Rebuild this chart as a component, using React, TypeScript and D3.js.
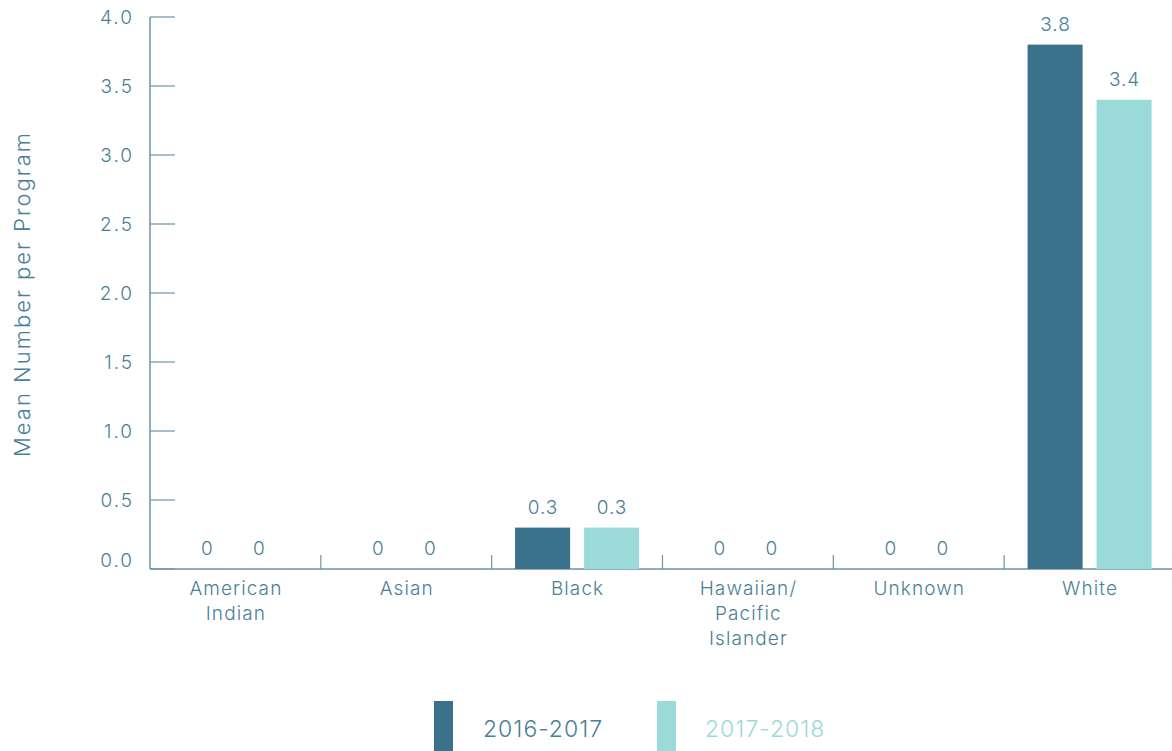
import React from "react";
import * as d3 from "d3";

const categories = ["American Indian", "Asian", "Black", "Hawaiian/ Pacific Islander", "Unknown", "White"];
const categoryLines = [["American", "Indian"], ["Asian"], ["Black"], ["Hawaiian/", "Pacific", "Islander"], ["Unknown"], ["White"]];
const seriesNames = ["2016-2017", "2017-2018"];
const values2016 = [0, 0, 0.3, 0, 0, 3.8];
const values2017 = [0, 0, 0.3, 0, 0, 3.4];
const yTicks = [0, 0.5, 1, 1.5, 2, 2.5, 3, 3.5, 4];

const W = 1172, H = 751;
const left = 150, right = 1175, top = 17, bottom = 569;
const colors = ["#3a718b", "#9adad8"];
const textColor = "#4a7f98";
const axisColor = "#6b95a8";
const font = "Inter, 'Open Sans', sans-serif";

export default function App() {
  const x = d3.scaleBand<string>().domain(categories).range([left, right]);
  const y = d3.scaleLinear().domain([0, 4]).range([bottom, top]);
  const barW = 55, gap = 14;
  const series = [values2016, values2017];
  return (
    <svg width={W} height={H} style={{ position: "absolute", left: 0, top: 0 }} fontFamily={font}>
      {/* y axis */}
      <line x1={left} x2={left} y1={top} y2={bottom} stroke={axisColor} strokeWidth={1.5} />
      {yTicks.map((t) => (
        <g key={t}>
          <line x1={left} x2={left + 25} y1={y(t)} y2={y(t)} stroke={axisColor} strokeWidth={1.2} />
          <text x={134} y={y(t) - (t === 0 ? 9 : 0)} dy="0.35em" textAnchor="end" fontSize={19} letterSpacing={2} fill={textColor} fontWeight={300}>
            {d3.format(".1f")(t)}
          </text>
        </g>
      ))}
      <text transform={`translate(30,${(top + bottom) / 2 + 1}) rotate(-90)`} textAnchor="middle" fontSize={22} letterSpacing={2} fill={textColor} fontWeight={300}>
        Mean Number per Program
      </text>
      {/* x axis */}
      <line x1={left} x2={W} y1={bottom} y2={bottom} stroke={axisColor} strokeWidth={1.5} />
      {categories.slice(1).map((c) => (
        <line key={c} x1={x(c)!} x2={x(c)!} y1={bottom} y2={bottom - 14} stroke={axisColor} strokeWidth={1.2} />
      ))}
      {categories.map((c, i) => {
        const cx = x(c)! + x.bandwidth() / 2;
        return (
          <g key={c}>
            {series.map((vals, s) => {
              const bx = s === 0 ? cx - gap / 2 - barW : cx + gap / 2;
              const v = vals[i];
              const lx = v === 0 ? cx - 2 + (s === 0 ? -26 : 26) : bx + barW / 2 + 0.5;
              return (
                <g key={s}>
                  {v > 0 && <rect x={bx} y={y(v)} width={barW} height={bottom - y(v)} fill={colors[s]} />}
                  <text x={lx} y={y(v) - 14} textAnchor="middle" fontSize={19} letterSpacing={1} fill={textColor} fontWeight={300}>
                    {v === 0 ? "0" : d3.format(".1f")(v)}
                  </text>
                </g>
              );
            })}
            {categoryLines[i].map((ln, k) => (
              <text key={k} x={cx + 0.5} y={588 + k * 25} dy="0.35em" textAnchor="middle" fontSize={19} letterSpacing={1.1} fill={textColor} fontWeight={300}>
                {ln}
              </text>
            ))}
          </g>
        );
      })}
      {/* legend */}
      {seriesNames.map((n, s) => (
        <g key={n}>
          <rect x={434 + s * 223} y={701} width={19} height={50} fill={colors[s]} />
          <text x={483 + s * 222} y={729} dy="0.35em" fontSize={23} letterSpacing={1} fill={s === 0 ? textColor : colors[1]} fontWeight={300}>
            {n}
          </text>
        </g>
      ))}
    </svg>
  );
}
